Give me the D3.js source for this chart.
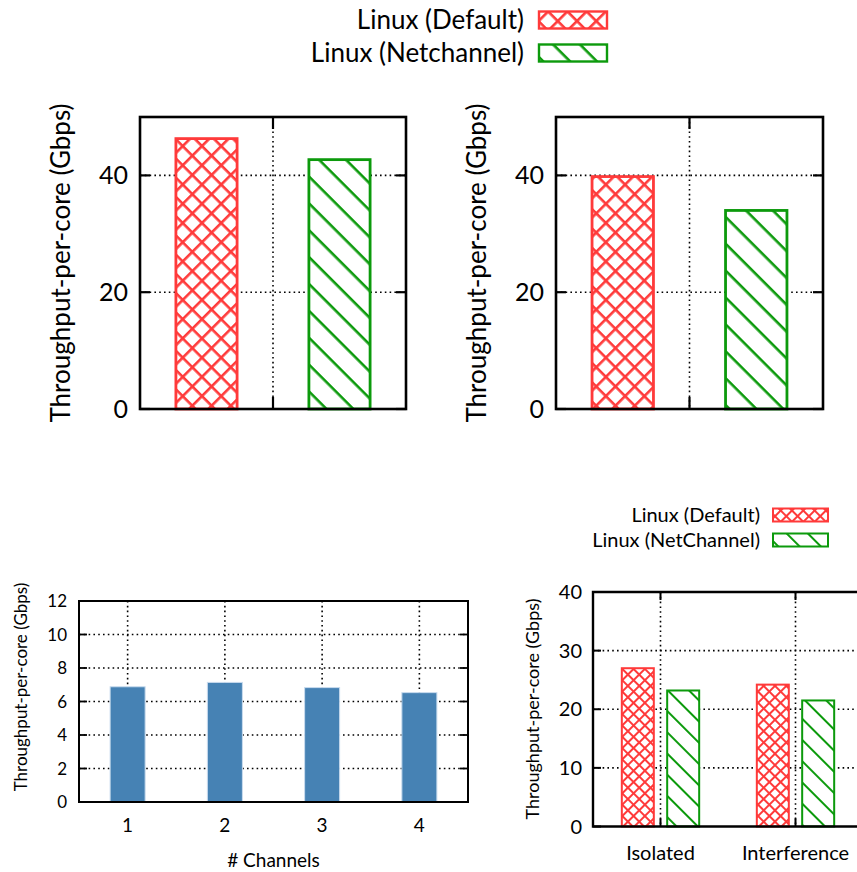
<!DOCTYPE html>
<html>
<head>
<meta charset="utf-8">
<script src="https://cdn.jsdelivr.net/npm/d3@7"></script>
<style>
  html, body { margin: 0; padding: 0; background: #fff; }
  svg { display: block; font-family: Lato, "Open Sans", sans-serif; }
</style>
</head>
<body>
<svg id="chart" width="857" height="872"></svg>
<script>
// ---------- data ----------
const seriesNamesTop = ["Linux (Default)", "Linux (Netchannel)"];
const seriesNamesBottom = ["Linux (Default)", "Linux (NetChannel)"];
const topLeftValues = [46.3, 42.7];
const topRightValues = [39.8, 34.0];
const topYTicks = [0, 20, 40];

const channels = ["1", "2", "3", "4"];
const channelValues = [6.88, 7.14, 6.83, 6.53];
const channelYTicks = [0, 2, 4, 6, 8, 10, 12];

const scenarios = ["Isolated", "Interference"];
const defaultValues = [27.0, 24.2];
const netchannelValues = [23.2, 21.5];
const scenarioYTicks = [0, 10, 20, 30, 40];

const yLabel = "Throughput-per-core (Gbps)";
const xLabelChannels = "# Channels";

// ---------- styles ----------
const RED = "#ff3a3a";
const GREEN = "#0c9a0c";
const BLUE = "#4682b4";

const svg = d3.select("#chart");
const defs = svg.append("defs");

function crossPattern(id, s, w, color) {
  const p = defs.append("pattern").attr("id", id).attr("patternUnits", "userSpaceOnUse")
    .attr("width", s).attr("height", s).attr("patternTransform", "rotate(45)");
  p.append("rect").attr("x", 0).attr("y", 0).attr("width", s).attr("height", w).attr("fill", color);
  p.append("rect").attr("x", 0).attr("y", 0).attr("width", w).attr("height", s).attr("fill", color);
}
function diagPattern(id, s, w, color) {
  const p = defs.append("pattern").attr("id", id).attr("patternUnits", "userSpaceOnUse")
    .attr("width", s).attr("height", s).attr("patternTransform", "rotate(45)");
  p.append("rect").attr("x", 0).attr("y", 0).attr("width", s).attr("height", w).attr("fill", color);
}
crossPattern("xTop", 13.6, 2.6, RED);
diagPattern("dTop", 19.0, 2.6, GREEN);
crossPattern("xBot", 8.0, 2.0, RED);
diagPattern("dBot", 15.0, 2.0, GREEN);

function dottedGrid(g, x1, y1, x2, y2) {
  g.append("line").attr("x1", x1).attr("y1", y1).attr("x2", x2).attr("y2", y2)
    .attr("stroke", "#000").attr("stroke-width", 1.6).attr("stroke-dasharray", "1.6,3.2");
}

// ---------- top panels ----------
function topPanel(left, right, values, labelX) {
  const top = 117, bottom = 409;
  const x = d3.scaleLinear().domain([-1, 1]).range([left, right]);
  const y = d3.scaleLinear().domain([0, 50]).range([bottom, top]);
  const g = svg.append("g");
  topYTicks.filter(t => t > 0).forEach(t => dottedGrid(g, left, y(t), right, y(t)));
  dottedGrid(g, x(0), top, x(0), bottom);
  const bw = 0.46;
  const pats = ["url(#xTop)", "url(#dTop)"];
  const cols = [RED, GREEN];
  const centers = [-0.5, 0.5];
  values.forEach((v, i) => {
    const xl = x(centers[i] - bw / 2), xr = x(centers[i] + bw / 2);
    g.append("rect").attr("x", xl).attr("y", y(v)).attr("width", xr - xl).attr("height", y(0) - y(v)).attr("fill", "#fff");
    g.append("rect").attr("x", xl).attr("y", y(v)).attr("width", xr - xl).attr("height", y(0) - y(v))
      .attr("fill", pats[i]).attr("stroke", cols[i]).attr("stroke-width", 2.8);
  });
  topYTicks.forEach(t => {
    g.append("line").attr("x1", left).attr("x2", left + 10).attr("y1", y(t)).attr("y2", y(t)).attr("stroke", "#000").attr("stroke-width", 2.2);
    g.append("line").attr("x1", right).attr("x2", right - 10).attr("y1", y(t)).attr("y2", y(t)).attr("stroke", "#000").attr("stroke-width", 2.2);
    g.append("text").attr("x", left - 12).attr("y", y(t)).attr("dy", "0.36em").attr("text-anchor", "end")
      .attr("font-size", 25).text(t);
  });
  g.append("line").attr("x1", x(0)).attr("x2", x(0)).attr("y1", bottom).attr("y2", bottom - 12).attr("stroke", "#000").attr("stroke-width", 2.2);
  g.append("line").attr("x1", x(0)).attr("x2", x(0)).attr("y1", top).attr("y2", top + 12).attr("stroke", "#000").attr("stroke-width", 2.2);
  g.append("rect").attr("x", left).attr("y", top).attr("width", right - left).attr("height", bottom - top)
    .attr("fill", "none").attr("stroke", "#000").attr("stroke-width", 2.6);
  g.append("text").attr("transform", `translate(${labelX},${(top + bottom) / 2}) rotate(-90)`)
    .attr("text-anchor", "middle").attr("font-size", 26).text(yLabel);
}
topPanel(140, 406, topLeftValues, 70);
topPanel(556, 823, topRightValues, 486);

// top legend
seriesNamesTop.forEach((name, i) => {
  const cy = [20, 53][i];
  svg.append("text").attr("x", 524).attr("y", cy).attr("dy", "0.36em").attr("text-anchor", "end")
    .attr("font-size", 26).text(name);
  svg.append("rect").attr("x", 539).attr("y", cy - 8.5).attr("width", 68).attr("height", 17).attr("fill", "#fff");
  svg.append("rect").attr("x", 539).attr("y", cy - 8.5).attr("width", 68).attr("height", 17)
    .attr("fill", i === 0 ? "url(#xTop)" : "url(#dTop)").attr("stroke", i === 0 ? RED : GREEN).attr("stroke-width", 2.4);
});

// ---------- bottom-left panel ----------
(function () {
  const left = 79, right = 468, top = 601, bottom = 802;
  const x = d3.scaleLinear().domain([0.5, 4.5]).range([left, right]);
  const y = d3.scaleLinear().domain([0, 12]).range([bottom, top]);
  const g = svg.append("g");
  channelYTicks.filter(t => t > 0 && t < 12).forEach(t => dottedGrid(g, left, y(t), right, y(t)));
  channels.forEach((c, i) => dottedGrid(g, x(i + 1), top, x(i + 1), bottom));
  const bw = 0.36;
  channels.forEach((c, i) => {
    const xl = x(i + 1 - bw / 2), xr = x(i + 1 + bw / 2);
    g.append("rect").attr("x", xl).attr("y", y(channelValues[i])).attr("width", xr - xl)
      .attr("height", y(0) - y(channelValues[i])).attr("fill", BLUE).attr("stroke", "#c9dbee").attr("stroke-width", 1);
  });
  channelYTicks.forEach(t => {
    g.append("line").attr("x1", left).attr("x2", left + 8).attr("y1", y(t)).attr("y2", y(t)).attr("stroke", "#000").attr("stroke-width", 1.8);
    g.append("line").attr("x1", right).attr("x2", right - 8).attr("y1", y(t)).attr("y2", y(t)).attr("stroke", "#000").attr("stroke-width", 1.8);
    g.append("text").attr("x", left - 12).attr("y", y(t)).attr("dy", "0.36em").attr("text-anchor", "end")
      .attr("font-size", 17).text(t);
  });
  channels.forEach((c, i) => {
    g.append("text").attr("x", x(i + 1)).attr("y", 825).attr("dy", "0.36em").attr("text-anchor", "middle")
      .attr("font-size", 19).text(c);
  });
  g.append("rect").attr("x", left).attr("y", top).attr("width", right - left).attr("height", bottom - top)
    .attr("fill", "none").attr("stroke", "#000").attr("stroke-width", 2);
  g.append("text").attr("x", (left + right) / 2).attr("y", 860).attr("dy", "0.36em").attr("text-anchor", "middle")
    .attr("font-size", 19).text(xLabelChannels);
  g.append("text").attr("transform", `translate(27,687) rotate(-90)`)
    .attr("text-anchor", "middle").attr("font-size", 17).text(yLabel);
})();

// ---------- bottom-right panel ----------
(function () {
  const left = 593, right = 863, top = 592, bottom = 826.5;
  const x = d3.scaleLinear().domain([-0.5, 1.5]).range([left, right]);
  const y = d3.scaleLinear().domain([0, 40]).range([bottom, top]);
  const g = svg.append("g");
  scenarioYTicks.filter(t => t > 0 && t < 40).forEach(t => dottedGrid(g, left, y(t), right, y(t)));
  scenarios.forEach((s, i) => dottedGrid(g, x(i), top, x(i), bottom));
  const bw = 0.237, off = 0.168;
  const series = [defaultValues, netchannelValues];
  const pats = ["url(#xBot)", "url(#dBot)"];
  const cols = [RED, GREEN];
  scenarios.forEach((s, i) => {
    series.forEach((vals, j) => {
      const c = i + (j === 0 ? -off : off);
      const xl = x(c - bw / 2), xr = x(c + bw / 2);
      g.append("rect").attr("x", xl).attr("y", y(vals[i])).attr("width", xr - xl).attr("height", y(0) - y(vals[i])).attr("fill", "#fff");
      g.append("rect").attr("x", xl).attr("y", y(vals[i])).attr("width", xr - xl).attr("height", y(0) - y(vals[i]))
        .attr("fill", pats[j]).attr("stroke", cols[j]).attr("stroke-width", 2);
    });
  });
  scenarioYTicks.forEach(t => {
    g.append("line").attr("x1", left).attr("x2", left + 8).attr("y1", y(t)).attr("y2", y(t)).attr("stroke", "#000").attr("stroke-width", 2);
    g.append("text").attr("x", left - 11).attr("y", y(t)).attr("dy", "0.36em").attr("text-anchor", "end")
      .attr("font-size", 20).text(t);
  });
  scenarios.forEach((s, i) => {
    g.append("line").attr("x1", x(i)).attr("x2", x(i)).attr("y1", bottom).attr("y2", bottom - 8).attr("stroke", "#000").attr("stroke-width", 2);
    g.append("line").attr("x1", x(i)).attr("x2", x(i)).attr("y1", top).attr("y2", top + 8).attr("stroke", "#000").attr("stroke-width", 2);
    g.append("text").attr("x", x(i)).attr("y", 853).attr("dy", "0.36em").attr("text-anchor", "middle")
      .attr("font-size", 20).text(s);
  });
  g.append("path").attr("d", `M${right},${top}H${left}V${bottom}H${right}`)
    .attr("fill", "none").attr("stroke", "#000").attr("stroke-width", 2.4);
  g.append("text").attr("transform", `translate(539,709) rotate(-90)`)
    .attr("text-anchor", "middle").attr("font-size", 18).text(yLabel);
})();

// bottom legend
seriesNamesBottom.forEach((name, i) => {
  const cy = [515, 540][i];
  svg.append("text").attr("x", 760).attr("y", cy).attr("dy", "0.36em").attr("text-anchor", "end")
    .attr("font-size", 20).text(name);
  svg.append("rect").attr("x", 773).attr("y", cy - 6.5).attr("width", 55).attr("height", 13).attr("fill", "#fff");
  svg.append("rect").attr("x", 773).attr("y", cy - 6.5).attr("width", 55).attr("height", 13)
    .attr("fill", i === 0 ? "url(#xBot)" : "url(#dBot)").attr("stroke", i === 0 ? RED : GREEN).attr("stroke-width", 2);
});
</script>
</body>
</html>
